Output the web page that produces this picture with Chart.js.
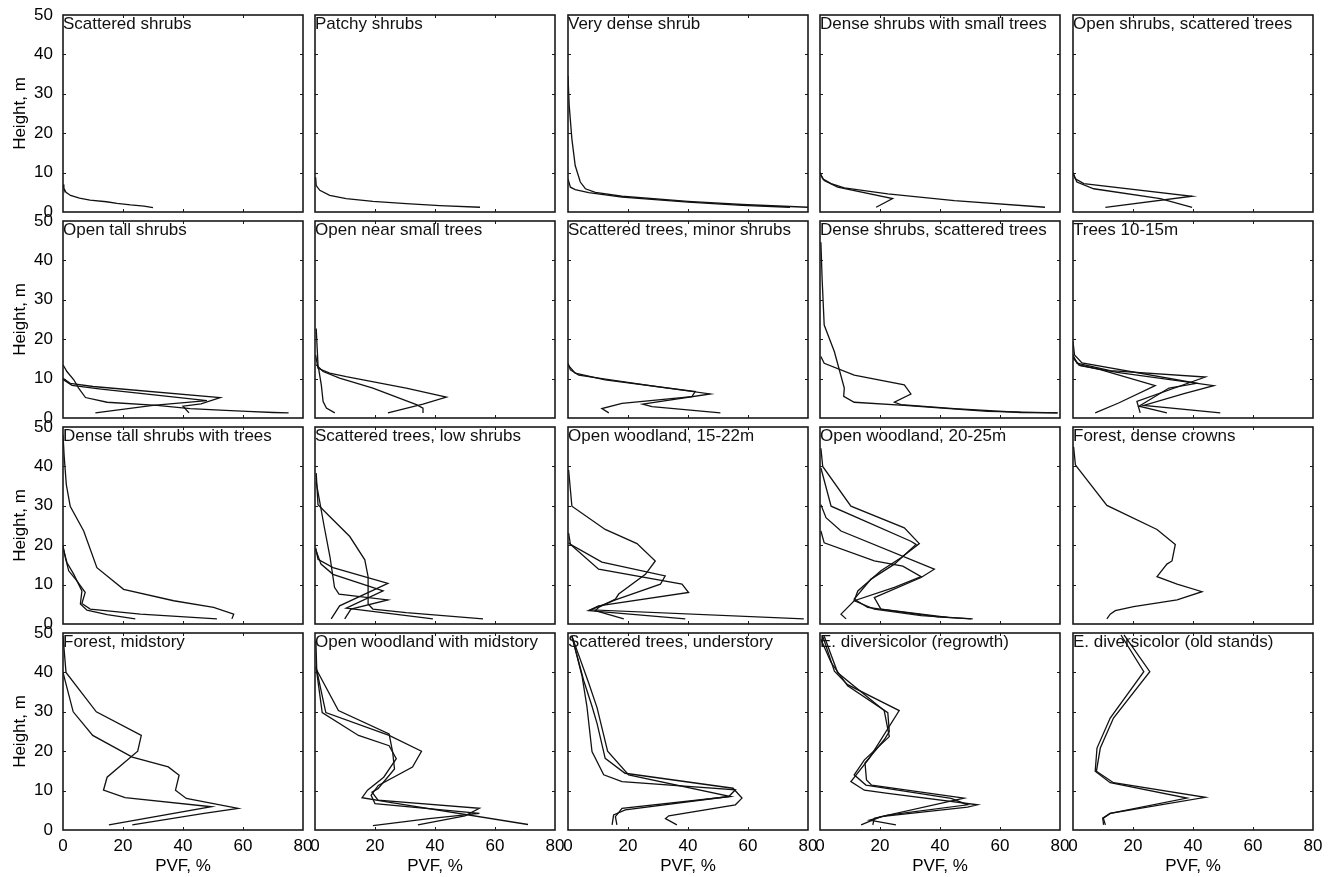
<!DOCTYPE html>
<html><head><meta charset="utf-8">
<script src="https://cdn.jsdelivr.net/npm/chart.js@4.4.1/dist/chart.umd.min.js"></script>
<style>
html,body{margin:0;padding:0;background:#fff;overflow:hidden;width:1331px;height:877px;}
canvas{position:absolute;}
</style></head><body>
<script>
const heightTicks=[0,10,20,30,40,50];
const pvfTicks=[0,20,40,60,80];
const panelTitles=["Scattered shrubs","Patchy shrubs","Very dense shrub","Dense shrubs with small trees","Open shrubs, scattered trees",
"Open tall shrubs","Open near small trees","Scattered trees, minor shrubs","Dense shrubs, scattered trees","Trees 10-15m",
"Dense tall shrubs with trees","Scattered trees, low shrubs","Open woodland, 15-22m","Open woodland, 20-25m","Forest, dense crowns",
"Forest, midstory","Open woodland with midstory","Scattered trees, understory","E. diversicolor (regrowth)","E. diversicolor (old stands)"];

// Each panel: list of profiles; PVF (%) and height (m)
const pvf01=[[0,0.3,1,2.5,5.5,9,14.5,18,22.5,27,30]];
const h01  =[[7,6,5,4.2,3.5,3,2.6,2.2,1.8,1.5,1.1]];
const pvf02=[[0.2,0.4,1.6,4.9,10.4,19.3,30.4,41.6,55]];
const h02  =[[8.8,6.7,5.5,4.2,3.4,2.7,2.1,1.6,1.2]];
const pvf03=[[0,0.4,1.3,2.4,4.1,5.8,9.1,18,40,58,80],[0,0.8,2.4,6.9,18,40,58,74]];
const h03  =[[34.5,27,18.5,11.8,7.6,5.9,5,4,2.7,1.9,1.2],[8.4,6.3,5.7,4.9,3.8,2.5,1.7,1.2]];
const pvf04=[[0,0.9,3.7,8.1,22.6,44.8,75],[0,1.4,5.9,24.2,18.7]];
const h04  =[[10.1,8.4,7.2,6.1,4.6,2.9,1.2],[9.8,8,6.3,3.4,1.2]];
const pvf05=[[0,0.8,3.6,39.7,10.8],[0,1.3,6.9,29.1,39.7]];
const h05  =[[10.1,8.4,7.2,4,1.2],[9.8,7.6,5.9,3.4,1.2]];
const pvf06=[[0,1.3,3.6,5.2,7.5,14.7,31.3,42.4,52.4,61.3,70.2,75.2],[0,2.4,10,52.4,46,40,42],[0,3,12,48,30,10.8]];
const h06  =[[13.5,11.8,9.7,7.6,5.2,4,3.2,2.4,2,1.7,1.4,1.3],[10.1,8.8,8,5.2,3.6,3,1.3],[9.8,8.3,7.4,4.4,3.2,1.3]];
const pvf07=[[0.4,1,2.1,2.7,3.8,6.6],[0.2,1,4.9,10.4,30.4,43.8,36,24.3],[0.4,2.7,8.2,19.3,33.8,36,36]];
const h07  =[[22.7,13.5,8.4,4.2,2.5,1.3],[16,12.6,11.4,10.5,7.6,5.3,3.5,1.3],[13.5,11.8,10.1,7.6,3.4,2.5,1.3]];
const pvf08=[[0,0.8,3.6,10.2,29.1,47.4,24.9,28,50.8],[0,2.4,12.4,42.4,41.3,18,11.3,13.6]];
const h08  =[[13.9,12.2,10.9,10.1,8,6.1,3.5,2.9,1.3],[13.5,11.4,9.7,6.7,5.4,3.7,2.4,1.3]];
const pvf09=[[0.3,0.7,1.4,4.8,8.1,7.9,11.4,28.1,55.9,79.2],[0.3,1.4,11.4,28.1,30.3,24.8,27,44.8,67,79.2]];
const h09  =[[44.6,35.4,23.6,16.8,7.6,5.5,4,3.2,1.7,1.3],[15.6,13.9,10.9,8.4,6.1,4,3.4,2.4,1.4,1.3]];
const pvf10=[[0,1.3,12.4,44.1,21.3,22.4],[0,2.4,14.7,46.9,37,23.6,49.1],[0,1.9,9.1,27.4,15.2,7.4],[0,0.5,3,41.3,32,22,31.3]];
const h10  =[[16,13.9,12,10.4,4.2,1.3],[15.2,13.3,11.6,8.2,6.2,3.2,1.3],[15.6,13.5,12.3,8.2,3.8,1.3],[19.4,16,14,8.8,7.6,3,1.3]];
const pvf11=[[0,0.4,1.1,2.4,6.9,11.3,20.2,36.9,50.2,56.9,56.3],[0,0.8,1.9,4.7,7.4,6.3,9.1,25.8,51.3],[0,1.3,3.6,6.3,5.8,8,14.7,24.1]];
const h11  =[[48,42.5,35.4,29.9,23.6,14.3,8.8,5.9,4.2,2.5,1.3],[19.8,16.8,13.5,10.9,8,5.2,3.8,2.5,1.3],[19.4,15.6,12.6,8.4,5.1,3.5,2.4,1.3]];
const pvf12=[[0.4,1,4.9,11.6,16.6,17.7,17.7,19.3,30.4,56],[0.2,1,6,24.3,8.2,5.4],[0.2,2,6,22.7,10.4,39.3],[0.4,3,5,6.5,8,24.3,12,9.9]];
const h12  =[[38.3,30.3,27.3,22.2,16.3,12,5.1,3.8,2.9,1.3],[19.4,16.4,14.3,10.3,4.6,1.3],[19,15.2,12.6,8.4,4,1.3],[36,25,17,9.3,7.6,6.1,3.8,1.3]];
const pvf13=[[0.2,1.3,12.4,23,29.1,25.8,16.9,15.8,10.2,9.1,18.6],[0.2,0.8,11.3,32.4,30.8,15.8,6.9,39.1],[0.2,10.2,38,40.2,10.2,7.5,78.6]];
const h13  =[[39.1,29.9,24,20.4,16,12.6,7.6,6.3,4.2,3.4,1.3],[23.1,20.2,15.7,12.2,10.1,6.1,3.4,1.3],[20.6,13.9,10.1,8,4.6,3.6,1.3]];
const pvf14=[[0.3,0.9,10.3,28.1,33.1,27,20.3,12.6,11.4,18.1,33.7,50.9],[0.3,3.7,30.3,32,24.8,17,11.4,15.9,39.2,50.3],[0.3,2,7,38.1,33.7,18.1,20.3,42.6],[0.3,1.4,18.1,27.6,33.7,24.8,11.4,7,8.7]];
const h14  =[[44.6,40,29.9,24.4,20.4,16.8,13.5,8.4,5.9,3.8,2.1,1.3],[39.6,29.9,21,20.2,15.2,11.4,6.3,4.2,1.8,1.3],[30.3,27,23.6,13.9,11.8,6.7,3.8,1.7],[23.6,20.6,16,14.7,12,9.3,5.9,2.5,1.3]];
const pvf15=[[0.2,0.8,1.3,11.3,28,34.1,33,31.3,28,34.7,43,34.7,20.2,14.1,12.4,11.3]];
const h15  =[[45,40.4,39.9,30.1,24,20.2,16,15.2,12,10.1,8.2,6.1,4.4,3.4,2.5,1.3]];
const pvf16=[[0,1,11.1,26.1,24.9,14.7,13.5,20.7,49.5,15.3],[0,3.4,9.9,23.1,35.1,38.7,37.5,41.1,58.4,47,23.1]];
const h16  =[[49.2,40,30,24,20,13.4,10.1,8.2,5.9,1.3],[40,30,24,18.5,16,13.9,10.1,8,5.5,4.2,1.3]];
const pvf17=[[0.3,0.6,2.4,14.5,24.7,27.1,22.9,17.5,15.7,26,71],[0.3,3.6,24.7,35.5,32.5,21.1,18.7,20,54.8,38,19.3],[0.3,7.8,24.7,25.9,26.5,21,19,21,54.8,50,34.3]];
const h17  =[[48,40,29.8,24,21.4,18.1,13.4,10.1,8.2,6.9,1.4],[41.5,29.8,24,20,16,11.3,8.8,6.7,4.2,2.9,1.1],[41,30.3,24.4,19.7,15.5,10.5,9.6,7.6,5.5,3.6,1.3]];
const pvf18=[[1.3,4.7,6.3,8,11.9,18,55.8,53.6,19.1,15.2,14.7],[1.3,5.2,8,9.7,12.4,19,55,58,55.8,33.6,32.5,36.3],[1.3,6.9,9.7,13.2,20.2,54.2,18,15.8,16.3]];
const h18  =[[49.2,39,31.4,19.9,14,12.3,10.2,8.5,5.1,3.8,1.3],[49.2,38,31.4,27,18.2,14.4,10.6,8.1,6.4,3.6,2.9,1.3],[49.2,37.3,31,20,14,8.5,5.5,3.4,1.3]];
const pvf19=[[0.9,4.8,9.2,26.4,16.4,10.3,14.8,22.6,52.5,49.2,20.3,13.7],[1.4,5.9,21.4,23.1,14.8,11.4,15.3,43.7,49.2,22.6,16.5,25.3],[0.3,3.7,9.2,22.6,23.1,21.4,15,15.5,17.2,48,18.1,17.6]];
const h19  =[[49.2,40.3,36.9,30.3,18.2,12.3,10.1,9.3,6.4,5.8,3.4,1.3],[49.2,39.9,30.3,23.7,17.8,14,11.4,8,6.4,3.8,2.5,1.3],[48.4,42.5,36.6,29.8,25,22.9,17,12.7,11.4,8.1,3,1.3]];
const pvf20=[[16,23.6,12.4,8,7.4,12.4,38,12.4,9.9,10.2],[17,25.6,13.5,9.1,7.8,13.5,44.1,12.4,10.1,10.8]];
const h20  =[[49.5,40.2,28.4,20.8,14.9,12,8.1,4.2,3,1.3],[49.5,40.2,28.4,20.8,14.9,12,8.3,4.2,3,1.3]];

const panelPVF=[pvf01,pvf02,pvf03,pvf04,pvf05,pvf06,pvf07,pvf08,pvf09,pvf10,pvf11,pvf12,pvf13,pvf14,pvf15,pvf16,pvf17,pvf18,pvf19,pvf20];
const panelH=[h01,h02,h03,h04,h05,h06,h07,h08,h09,h10,h11,h12,h13,h14,h15,h16,h17,h18,h19,h20];

const FONT='"Liberation Sans", Arial, sans-serif';
const FS=17;
Chart.defaults.font.family=FONT;
Chart.defaults.font.size=FS;
Chart.defaults.color='#000';

const colLeft=[63,315,568,820,1073];
const rowTop=[15,221,427,633];
const PW=240, PH=197;
const LEFTW=63, TOPP=24, RIGHTP=24, BOTH=52;

const framePlugin={
  id:'frame',
  afterDatasetsDraw(chart){
    const {ctx,chartArea:{left,right,top,bottom},scales:{x,y}}=chart;
    ctx.save();
    ctx.strokeStyle='#1a1a1a';
    ctx.lineWidth=1;
    ctx.beginPath();
    pvfTicks.forEach(v=>{
      if(v===pvfTicks[0]||v===pvfTicks[pvfTicks.length-1])return;
      const px=Math.round(x.getPixelForValue(v))+0.5;
      ctx.moveTo(px,bottom);ctx.lineTo(px,bottom-3);
      ctx.moveTo(px,top);ctx.lineTo(px,top+3);
    });
    heightTicks.forEach(v=>{
      if(v===heightTicks[0]||v===heightTicks[heightTicks.length-1])return;
      const py=Math.round(y.getPixelForValue(v))+0.5;
      ctx.moveTo(left,py);ctx.lineTo(left+3,py);
      ctx.moveTo(right,py);ctx.lineTo(right-3,py);
    });
    ctx.stroke();
    ctx.lineWidth=1.6;
    ctx.strokeRect(left,top,right-left,bottom-top);
    ctx.fillStyle='#111';
    ctx.font=FS+'px '+FONT;
    ctx.textBaseline='top';
    ctx.textAlign='left';
    ctx.fillText(chart.options.plugins.frame.title,left,top+1);
    ctx.restore();
  }
};

for(let i=0;i<20;i++){
  const r=Math.floor(i/5), c=i%5;
  const cv=document.createElement('canvas');
  cv.width=LEFTW+PW+RIGHTP; cv.height=TOPP+PH+BOTH;
  cv.style.left=(colLeft[c]-LEFTW)+'px';
  cv.style.top=(rowTop[r]-TOPP)+'px';
  cv.style.width=cv.width+'px'; cv.style.height=cv.height+'px';
  document.body.appendChild(cv);
  const datasets=panelPVF[i].map((xs,k)=>({
    data:xs.map((xv,j)=>({x:xv,y:panelH[i][k][j]})),
    showLine:true,pointRadius:0,borderColor:'#111',borderWidth:1.3,tension:0,fill:false
  }));
  new Chart(cv,{
    type:'scatter',
    data:{datasets},
    plugins:[framePlugin],
    options:{
      responsive:false,animation:false,devicePixelRatio:1,
      layout:{padding:{top:TOPP,right:RIGHTP,left:0,bottom:0}},
      plugins:{legend:{display:false},tooltip:{enabled:false},frame:{title:panelTitles[i]}},
      scales:{
        x:{type:'linear',min:0,max:80,
          grid:{display:false,drawTicks:false},border:{display:false},
          afterBuildTicks:s=>{s.ticks=pvfTicks.map(v=>({value:v}));},
          ticks:{display:r===3,autoSkip:false,padding:6,maxRotation:0,color:'#000',font:{size:FS}},
          title:{display:r===3,text:'PVF, %',color:'#000',font:{size:FS},padding:{top:0,bottom:5}},
          afterFit:s=>{s.height=BOTH;}
        },
        y:{type:'linear',min:0,max:50,
          grid:{display:false,drawTicks:false},border:{display:false},
          afterBuildTicks:s=>{s.ticks=heightTicks.map(v=>({value:v}));},
          ticks:{display:c===0,autoSkip:false,padding:10,color:'#000',font:{size:FS}},
          title:{display:c===0,text:'Height, m',color:'#000',font:{size:FS},padding:{top:10,bottom:0}},
          afterFit:s=>{s.width=LEFTW;}
        }
      }
    }
  });
}
</script>
</body></html>
